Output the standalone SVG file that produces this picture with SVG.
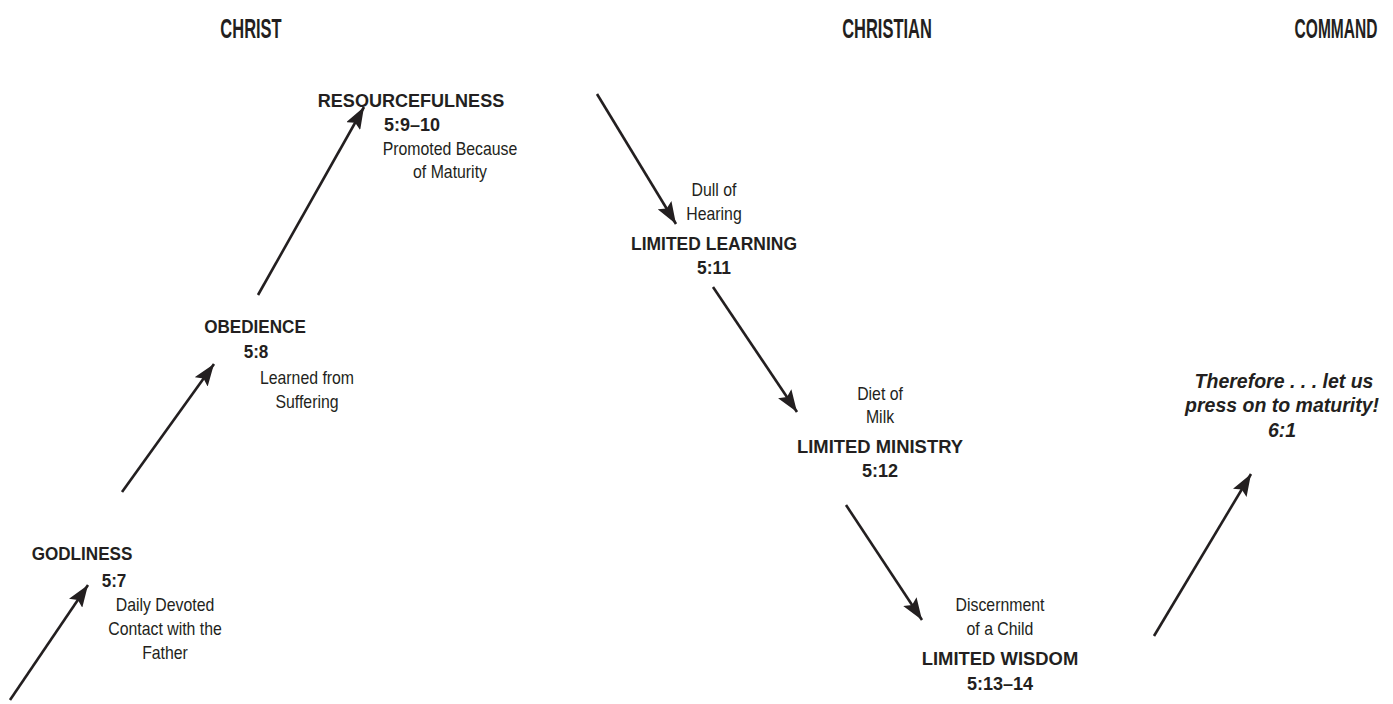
<svg xmlns="http://www.w3.org/2000/svg" width="1393" height="704" viewBox="0 0 1393 704">
<style>
text{font-family:"Liberation Sans",Arial,sans-serif;fill:#231f20;text-anchor:middle}
.h{font-size:27px;font-weight:bold}
.t{font-size:19px;font-weight:bold}
.d{font-size:18px}
.c{font-size:19.5px;font-weight:bold;font-style:italic}
.a{stroke:#231f20;stroke-width:2.6;fill:none}
</style>
<defs>
<marker id="ah" markerUnits="userSpaceOnUse" markerWidth="24" markerHeight="16" refX="22" refY="8" orient="auto">
<path d="M0,0 L22,8 L0,16 L4,8 Z" fill="#231f20"/>
</marker>
</defs>
<g id="headers">
<text class="h" transform="translate(251,38) scale(0.61,1)">CHRIST</text>
<text class="h" transform="translate(887,38) scale(0.61,1)">CHRISTIAN</text>
<text class="h" transform="translate(1336,38) scale(0.575,1)">COMMAND</text>
</g>
<g id="godliness">
<text class="t" transform="translate(82,560) scale(0.9,1)">GODLINESS</text>
<text class="t" transform="translate(114,587) scale(0.9,1)">5:7</text>
<text class="d" transform="translate(165,611) scale(0.88,1)">Daily Devoted</text>
<text class="d" transform="translate(165,635) scale(0.88,1)">Contact with the</text>
<text class="d" transform="translate(165,659) scale(0.88,1)">Father</text>
</g>
<g id="obedience">
<text class="t" transform="translate(255,333) scale(0.9,1)">OBEDIENCE</text>
<text class="t" transform="translate(256,358) scale(0.9,1)">5:8</text>
<text class="d" transform="translate(307,384) scale(0.88,1)">Learned from</text>
<text class="d" transform="translate(307,408) scale(0.88,1)">Suffering</text>
</g>
<g id="resourcefulness">
<text class="t" transform="translate(411,107) scale(0.95,1)">RESOURCEFULNESS</text>
<text class="t" transform="translate(412,131) scale(0.95,1)">5:9–10</text>
<text class="d" transform="translate(450,155) scale(0.88,1)">Promoted Because</text>
<text class="d" transform="translate(450,178) scale(0.88,1)">of Maturity</text>
</g>
<g id="learning">
<text class="d" transform="translate(714,196) scale(0.88,1)">Dull of</text>
<text class="d" transform="translate(714,220) scale(0.88,1)">Hearing</text>
<text class="t" transform="translate(714,250) scale(0.92,1)">LIMITED LEARNING</text>
<text class="t" transform="translate(714,274) scale(0.92,1)">5:11</text>
</g>
<g id="ministry">
<text class="d" transform="translate(880,400) scale(0.88,1)">Diet of</text>
<text class="d" transform="translate(880,423) scale(0.88,1)">Milk</text>
<text class="t" transform="translate(880,453) scale(0.97,1)">LIMITED MINISTRY</text>
<text class="t" transform="translate(880,477) scale(0.95,1)">5:12</text>
</g>
<g id="wisdom">
<text class="d" transform="translate(1000,611) scale(0.88,1)">Discernment</text>
<text class="d" transform="translate(1000,635) scale(0.88,1)">of a Child</text>
<text class="t" transform="translate(1000,665) scale(0.97,1)">LIMITED WISDOM</text>
<text class="t" transform="translate(1000,690) scale(0.95,1)">5:13–14</text>
</g>
<g id="command">
<text class="c" transform="translate(1284,388) scale(1,1)">Therefore . . . let us</text>
<text class="c" transform="translate(1282,412) scale(1,1)">press on to maturity!</text>
<text class="c" transform="translate(1282,437) scale(1,1)">6:1</text>
</g>
<g id="connectors">
<line class="a" x1="10" y1="700" x2="88" y2="585" marker-end="url(#ah)"/>
<line class="a" x1="122" y1="492" x2="214" y2="364" marker-end="url(#ah)"/>
<line class="a" x1="258" y1="295" x2="364" y2="107" marker-end="url(#ah)"/>
<line class="a" x1="597" y1="94" x2="676" y2="224" marker-end="url(#ah)"/>
<line class="a" x1="713" y1="287" x2="797" y2="412" marker-end="url(#ah)"/>
<line class="a" x1="846" y1="505" x2="922" y2="620" marker-end="url(#ah)"/>
<line class="a" x1="1154" y1="636" x2="1251" y2="474" marker-end="url(#ah)"/>
</g>
</svg>
